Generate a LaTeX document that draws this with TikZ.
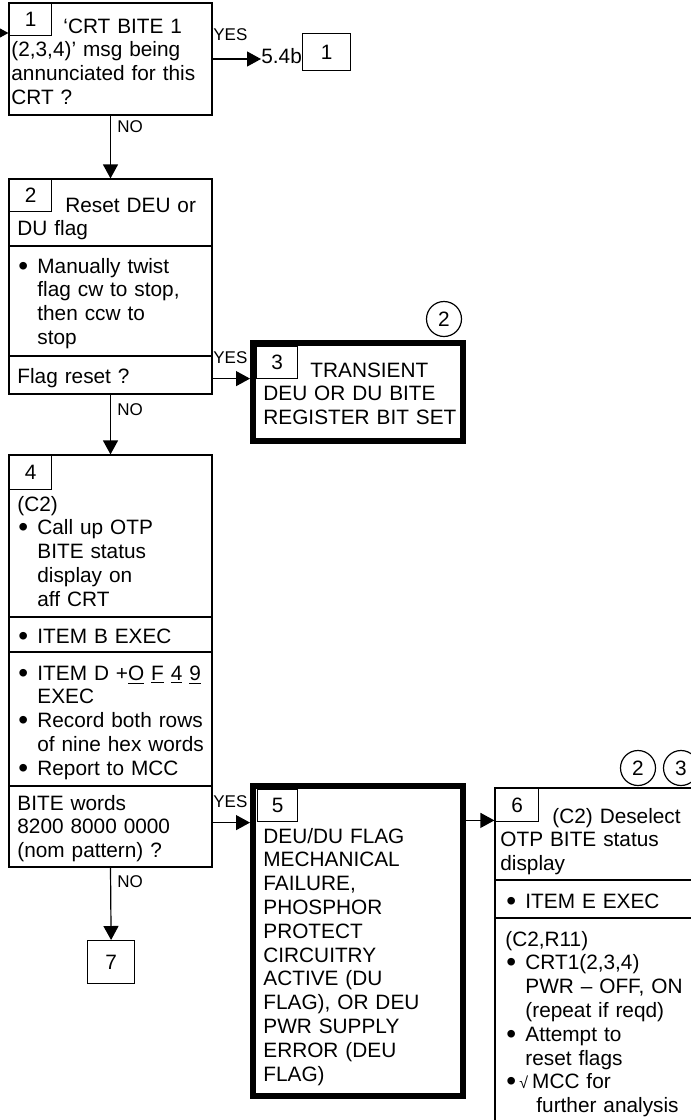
\documentclass[tikz,border=0pt]{standalone}
\usepackage{fontspec}
\setmainfont{Liberation Sans}
\usepackage{tikz}
\usetikzlibrary{calc,arrows.meta,positioning,fit}
\newcommand{\bul}{\makebox[10pt][l]{\hspace{0.5pt}\raisebox{-1pt}{\fontsize{14}{0}\selectfont\textbullet}}}
\newcommand{\ind}{\hspace*{10pt}}
\newcommand{\hexd}[1]{\underline{#1}}

\begin{document}
\begin{tikzpicture}[x=0.5pt,y=-0.5pt,
  stepbox/.style={draw,line width=0.6pt,inner sep=0pt},
  endbox/.style={draw,line width=3pt,inner sep=0pt},
  numbox/.style={draw,line width=0.6pt,inner sep=0pt,anchor=north west,minimum width=21pt,minimum height=16pt,font=\fontsize{10.4}{11.9}\selectfont},
  body/.style={anchor=base west,inner sep=0pt,text width=112pt,align=left,font=\fontsize{10.4}{11.9}\selectfont},
  yn/.style={anchor=base west,inner sep=0pt,font=\fontsize{8.5}{10}\selectfont},
  refc/.style={draw,circle,line width=0.6pt,minimum size=17.5pt,inner sep=0pt,font=\fontsize{10.4}{11.9}\selectfont},
  arr/.style={-{Triangle[length=7pt,width=7.5pt]},line width=0.6pt}]
\useasboundingbox (0,0) rectangle (691,1120);
\clip (0,0) rectangle (691,1120);

% step 1
\node[stepbox,fit={(9,3) (212,115)}] (b1) {};
\node[numbox] (n1) at (9,3) {1};
\node[body] (t1) at (11,33) {\hspace*{26pt}`CRT BITE 1\\(2,3,4)' msg being\\annunciated for this\\CRT ?};
\node[anchor=base west,inner sep=0pt,font=\fontsize{10.4}{11.9}\selectfont] (r54) at (261,63) {5.4b};
\node[numbox,minimum width=24pt,minimum height=18.5pt] (g1) at (302,33) {1};

% step 2
\node[stepbox,fit={(9,179) (212,394)}] (b2) {};
\node[numbox] (n2) at (9,179) {2};
\node[body] (t2a) at (17,212) {\hspace*{24pt}Reset DEU or\\DU flag};
\node[body] (t2b) at (17,273) {\bul Manually twist\\\ind flag cw to stop,\\\ind then ccw to\\\ind stop};
\node[body] (t2c) at (17,383) {Flag reset ?};

% step 3
\node[endbox,fit={(253,343) (463,441)}] (b3) {};
\node[numbox,minimum width=20.5pt] (n3) at (256,346) {3};
\node[body] (t3) at (263,377) {\hspace*{23.5pt}TRANSIENT\\DEU OR DU BITE\\REGISTER BIT SET};
\node[refc] (c3) at (444,319) {2};

% step 4
\node[stepbox,fit={(9,455) (212,867)}] (b4) {};
\node[numbox,minimum height=17pt] (n4) at (9,455) {4};
\node[body] (t4a) at (17,511) {(C2)\\\bul Call up OTP\\\ind BITE status\\\ind display on\\\ind aff CRT};
\node[body] (t4b) at (17,643) {\bul ITEM B EXEC};
\node[body] (t4c) at (17,680) {\bul ITEM D +\hexd{O} \hexd{F} \hexd{4} \hexd{9}\\\ind EXEC\\\bul Record both rows\\\ind of nine hex words\\\bul Report to MCC};
\node[body] (t4d) at (17,810) {BITE words\\8200 8000 0000\\(nom pattern) ?};

% step 5
\node[endbox,fit={(253,786) (463,1096)}] (b5) {};
\node[numbox,minimum width=20pt] (n5) at (257,789) {5};
\node[body] (t5) at (263,843) {DEU/DU FLAG\\MECHANICAL\\FAILURE,\\PHOSPHOR\\PROTECT\\CIRCUITRY\\ACTIVE (DU\\FLAG), OR DEU\\PWR SUPPLY\\ERROR (DEU\\FLAG)};

% step 6
\node[stepbox,fit={(495,788) (740,1140)}] (b6) {};
\node[numbox,minimum width=21.5pt,minimum height=16.5pt] (n6) at (495,788) {6};
\node[body] (t6a) at (500,823) {\hspace*{26pt}(C2) Deselect\\OTP BITE status\\display};
\node[body] (t6b) at (505,908) {\bul ITEM E EXEC};
\node[body] (t6c) at (505,946) {(C2,R11)\\\bul CRT1(2,3,4)\\\ind PWR -- OFF, ON\\\ind (repeat if reqd)\\\bul Attempt to\\\ind reset flags\\\makebox[7pt][l]{\hspace{0.5pt}\raisebox{-1pt}{\fontsize{14}{0}\selectfont\textbullet}}{\fontsize{8}{8}\selectfont √}\hspace{2pt}MCC for\\\hspace*{15.5pt}further analysis};
\node[refc] (c6a) at (638,768) {2};
\node[refc] (c6b) at (681,768) {3};

% step 7
\node[numbox,minimum width=23.5pt,minimum height=21.5pt] (b7) at (87,940) {7};

% section lines
\foreach \b/\y in {b2/246,b2/356,b4/617,b4/652,b4/786,b6/880,b6/918}
  \draw[line width=0.6pt] (\b.west |- 0,\y) -- (\b.east |- 0,\y);

% YES / NO
\node[yn] (yes1) at (213,40) {YES};
\node[yn] (no1) at (117,132) {NO};
\node[yn] (yes2) at (213,363) {YES};
\node[yn] (no2) at (117,415) {NO};
\node[yn] (yes4) at (213,807) {YES};
\node[yn] (no4) at (117,887) {NO};

% connectors
\coordinate (in1) at (-20,33);
\draw[arr] (in1) -- (in1 -| b1.west);
\draw[arr] (b1.east) -- (b1.east -| r54.west);
\draw[arr] (b1.south) -- (b2.north);
\coordinate (in3) at ([yshift=8pt]b2.south east);
\draw[arr] (in3) -- (in3 -| b3.west);
\draw[arr] (b2.south) -- (b4.north);
\coordinate (in5) at ([yshift=22.5pt]b4.south east);
\draw[arr] (in5) -- (in5 -| b5.west);
\coordinate (in6) at ([yshift=-16.5pt]b6.north west);
\draw[arr] (in6 -| b5.east) -- (in6);
\draw[arr] (b4.south) -- (b7.north);
\end{tikzpicture}
\end{document}
